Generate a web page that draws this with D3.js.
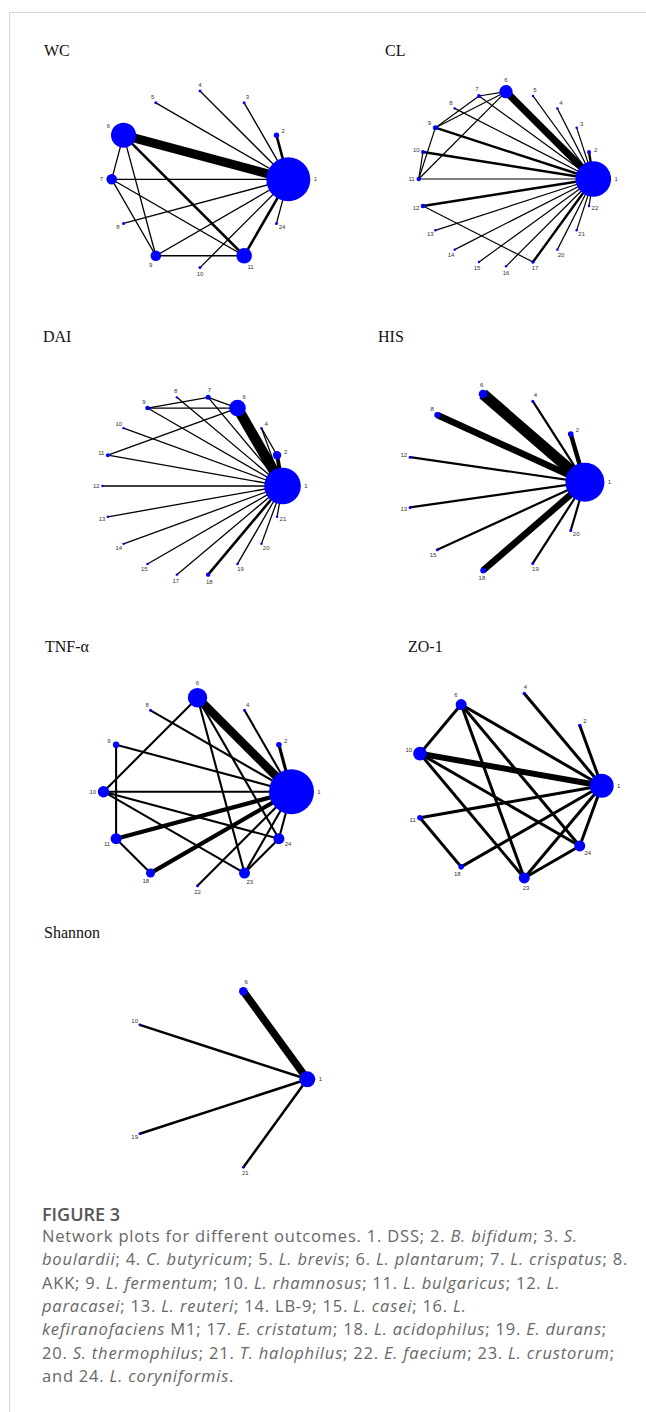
<!DOCTYPE html>
<html>
<head>
<meta charset="utf-8">
<script src="https://cdn.jsdelivr.net/npm/d3@7"></script>
<style>
  html, body { margin: 0; padding: 0; background: #fff; }
  svg { display: block; }
</style>
</head>
<body>
<script>
// ---- Network data: treatment nodes, sample sizes, and comparisons [a, b, studies] ----
const wcNodes = ["1","2","3","4","5","6","7","8","9","10","11","24"];
const wcSizes = [1936, 29, 9, 9, 9, 625, 112, 9, 112, 9, 243, 9];
const wcEdges = [
  ["1","2",2],["1","3",1],["1","4",1],["1","5",1],["1","6",7],["1","7",1],
  ["1","8",1],["1","9",1],["1","10",1],["1","11",2],["1","24",1],
  ["6","7",1],["6","9",1],["6","11",2],["7","9",1],["7","11",1],["9","11",1]
];

const clNodes = ["1","2","3","4","5","6","7","8","9","10","11","12","13","14","15","16","17","20","21","22"];
const clSizes = [1267, 16, 6, 6, 6, 178, 16, 6, 25, 16, 19, 21, 6, 6, 6, 6, 13, 6, 6, 6];
const clEdges = [
  ["1","2",2],["1","3",1],["1","4",1],["1","5",1],["1","6",6],["1","7",1],
  ["1","8",1],["1","9",2],["1","10",2],["1","11",1],["1","12",2],["1","13",1],
  ["1","14",1],["1","15",1],["1","16",1],["1","17",2],["1","20",1],["1","21",1],
  ["1","22",1],["6","7",1],["6","9",1],["6","11",1],["7","9",1],["9","11",1],
  ["10","11",1],["12","17",1]
];

const daiNodes = ["1","2","4","6","7","8","9","10","11","12","13","14","15","17","18","19","20","21"];
const daiSizes = [1340, 70, 6, 276, 25, 6, 21, 6, 16, 6, 6, 6, 6, 6, 19, 6, 6, 6];
const daiEdges = [
  ["1","2",3],["1","4",1],["1","6",8],["1","7",1],["1","8",1],["1","9",1],
  ["1","10",1],["1","11",1],["1","12",1],["1","13",1],["1","14",1],["1","15",1],
  ["1","17",1],["1","18",2],["1","19",1],["1","20",1],["1","21",1],
  ["2","4",1],["6","7",1],["6","9",1],["7","9",1],["6","11",1]
];

const hisNodes = ["1","2","4","6","8","12","13","15","18","19","20"];
const hisSizes = [1521, 32, 9, 75, 36, 9, 9, 9, 32, 9, 9];
const hisEdges = [
  ["1","2",2],["1","4",1],["1","6",5],["1","8",3],["1","12",1],
  ["1","13",1],["1","15",1],["1","18",3],["1","19",1],["1","20",1]
];

const tnfNodes = ["1","2","4","6","8","9","10","11","18","22","23","24"];
const tnfSizes = [2025, 31, 9, 375, 9, 41, 130, 121, 81, 9, 121, 121];
const tnfEdges = [
  ["1","2",1.5],["1","4",1],["1","6",4],["1","8",1],["1","9",1],["1","10",1],
  ["1","11",2],["1","18",2],["1","22",1],["1","23",1],["1","24",1],
  ["6","10",1],["6","23",1],["6","24",1],["9","11",1],["10","23",1],
  ["10","24",1],["11","18",1],["23","24",1]
];

const zoNodes = ["1","2","4","6","10","11","18","23","24"];
const zoSizes = [576, 12, 12, 121, 185, 31, 31, 121, 121];
const zoEdges = [
  ["1","2",1],["1","4",1],["1","6",1],["1","10",2],["1","11",1],["1","18",1],
  ["1","23",1],["1","24",1],["6","10",1],["6","23",1],["6","24",1],
  ["10","23",1],["10","24",1],["11","18",1],["23","24",1]
];

const shNodes = ["1","6","10","19","21"];
const shSizes = [256, 74, 7, 7, 7];
const shEdges = [["1","6",3],["1","10",1],["1","19",1],["1","21",1]];

// ---- Panel layout: title placement, circle centre/radius, edge width per study ----
const panels = [
  { title: "WC",      tx: 44,  ty: 56,  cx: 200,   cy: 179.3,  R: 88.3, unit: 1.3,
    nodes: wcNodes, sizes: wcSizes, edges: wcEdges },
  { title: "CL",      tx: 385, ty: 56,  cx: 506,   cy: 179,    R: 87.3, unit: 1.2,
    nodes: clNodes, sizes: clSizes, edges: clEdges },
  { title: "DAI",     tx: 43,  ty: 342, cx: 192.5, cy: 486,    R: 90,   unit: 1.3,
    nodes: daiNodes, sizes: daiSizes, edges: daiEdges },
  { title: "HIS",     tx: 378, ty: 342, cx: 495.7, cy: 482.3,  R: 89.2, unit: 2.2,
    nodes: hisNodes, sizes: hisSizes, edges: hisEdges },
  { title: "TNF-\u03b1", tx: 45, ty: 652, cx: 197.5, cy: 791.7, R: 94, unit: 2.1,
    nodes: tnfNodes, sizes: tnfSizes, edges: tnfEdges },
  { title: "ZO-1",    tx: 408, ty: 652, cx: 508,   cy: 785.7,  R: 93.7, unit: 3,
    nodes: zoNodes, sizes: zoSizes, edges: zoEdges },
  { title: "Shannon", tx: 44,  ty: 938, cx: 214.7, cy: 1079.3, R: 92.6, unit: 2.5,
    nodes: shNodes, sizes: shSizes, edges: shEdges }
];

const W = 646, H = 1412;
const svg = d3.select("body").append("svg").attr("width", W).attr("height", H);

// page frame
svg.append("line").attr("x1", 9.5).attr("x2", W).attr("y1", 12.5).attr("y2", 12.5)
  .attr("stroke", "#d4d4d4").attr("stroke-width", 1);
svg.append("line").attr("x1", 9.5).attr("x2", 9.5).attr("y1", 12.5).attr("y2", H)
  .attr("stroke", "#d4d4d4").attr("stroke-width", 1);

// node radius from sample size (shared across panels)
const rScale = d3.scaleSqrt().domain([0, 2000]).range([0, 22.36]);

panels.forEach(p => {
  const g = svg.append("g");
  const n = p.nodes.length;
  const angle = d3.scaleLinear().domain([0, n]).range([0, 2 * Math.PI]);
  const x = d3.scaleLinear().domain([-1, 1]).range([p.cx - p.R, p.cx + p.R]);
  const y = d3.scaleLinear().domain([-1, 1]).range([p.cy + p.R, p.cy - p.R]);
  const wScale = d3.scaleLinear().domain([0, 1]).range([0, p.unit]);

  const nodes = p.nodes.map((id, i) => {
    const a = angle(i);
    return { id, a, x: x(Math.cos(a)), y: y(Math.sin(a)), r: rScale(p.sizes[i]) };
  });
  const byId = new Map(nodes.map(d => [d.id, d]));

  g.append("text")
    .attr("x", p.tx).attr("y", p.ty)
    .attr("font-family", "'Liberation Serif', 'Times New Roman', serif")
    .attr("font-size", 16).attr("fill", "#111")
    .text(p.title);

  g.append("g").selectAll("line").data(p.edges).join("line")
    .attr("x1", d => byId.get(d[0]).x).attr("y1", d => byId.get(d[0]).y)
    .attr("x2", d => byId.get(d[1]).x).attr("y2", d => byId.get(d[1]).y)
    .attr("stroke", "#000").attr("stroke-width", d => wScale(d[2]));

  g.append("g").selectAll("circle").data(nodes).join("circle")
    .attr("cx", d => d.x).attr("cy", d => d.y).attr("r", d => d.r)
    .attr("fill", "#0000ff");

  g.append("g").selectAll("text").data(nodes).join("text")
    .attr("x", d => d.x + (d.r + 5) * Math.cos(d.a))
    .attr("y", d => d.y - (d.r + 5) * Math.sin(d.a))
    .attr("text-anchor", "middle").attr("dominant-baseline", "central")
    .attr("font-family", "'Liberation Sans', Arial, sans-serif")
    .attr("font-size", 6).attr("fill", "#333")
    .text(d => d.id);
});

// ---- Caption ----
const captionTitle = "FIGURE 3";
const captionLines = [
  [["Network plots for different outcomes. 1. DSS; 2. ", 0], ["B. bifidum", 1], ["; 3. ", 0], ["S.", 1]],
  [["boulardii", 1], ["; 4. ", 0], ["C. butyricum", 1], ["; 5. ", 0], ["L. brevis", 1], ["; 6. ", 0], ["L. plantarum", 1], ["; 7. ", 0], ["L. crispatus", 1], ["; 8.", 0]],
  [["AKK; 9. ", 0], ["L. fermentum", 1], ["; 10. ", 0], ["L. rhamnosus", 1], ["; 11. ", 0], ["L. bulgaricus", 1], ["; 12. ", 0], ["L.", 1]],
  [["paracasei", 1], ["; 13. ", 0], ["L. reuteri", 1], ["; 14. LB-9; 15. ", 0], ["L. casei", 1], ["; 16. ", 0], ["L.", 1]],
  [["kefiranofaciens", 1], [" M1; 17. ", 0], ["E. cristatum", 1], ["; 18. ", 0], ["L. acidophilus", 1], ["; 19. ", 0], ["E. durans", 1], [";", 0]],
  [["20. ", 0], ["S. thermophilus", 1], ["; 21. ", 0], ["T. halophilus", 1], ["; 22. ", 0], ["E. faecium", 1], ["; 23. ", 0], ["L. crustorum", 1], [";", 0]],
  [["and 24. ", 0], ["L. coryniformis", 1], [".", 0]]
];

svg.append("text")
  .attr("x", 42).attr("y", 1220.5)
  .attr("font-family", "'Open Sans', 'Noto Sans', sans-serif")
  .attr("font-size", 18).attr("font-weight", 600).attr("fill", "#555")
  .text(captionTitle);

const cap = svg.append("g")
  .attr("font-family", "'Open Sans', 'Noto Sans', sans-serif")
  .attr("font-size", 16.5).attr("letter-spacing", 0.8).attr("fill", "#676767");

captionLines.forEach((segs, i) => {
  const t = cap.append("text").attr("x", 42).attr("y", 1241.7 + i * 23.4);
  segs.forEach(([s, it]) => {
    t.append("tspan").attr("font-style", it ? "italic" : "normal").text(s);
  });
});
</script>
</body>
</html>
